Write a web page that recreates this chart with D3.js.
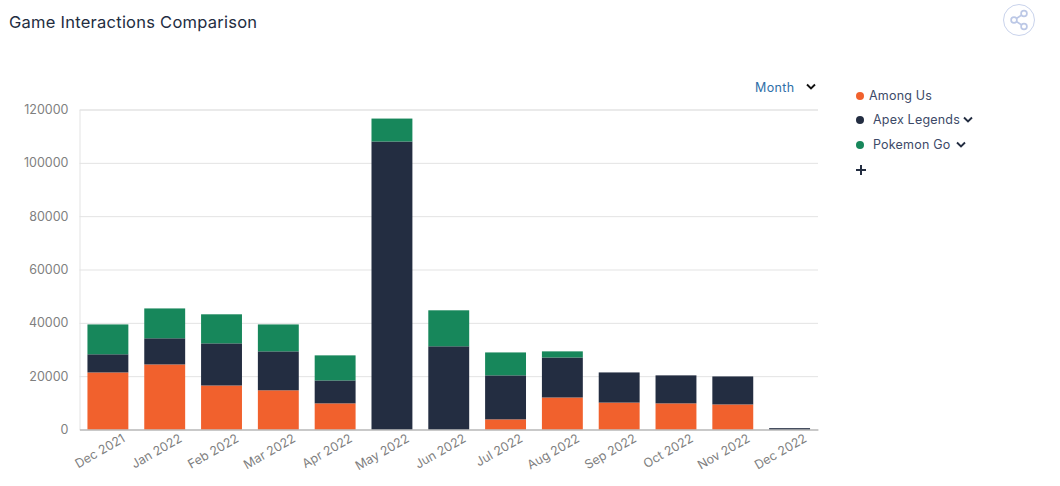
<!DOCTYPE html>
<html>
<head>
<meta charset="utf-8">
<script src="https://cdn.jsdelivr.net/npm/d3@7/dist/d3.min.js"></script>
<style>
html,body{margin:0;padding:0;background:#fff;overflow:hidden}
text{font-family:Inter,"Noto Sans",sans-serif}
</style>
</head>
<body>
<svg id="chart" width="1060" height="486"></svg>
<script>
const months = ["Dec 2021","Jan 2022","Feb 2022","Mar 2022","Apr 2022","May 2022","Jun 2022","Jul 2022","Aug 2022","Sep 2022","Oct 2022","Nov 2022","Dec 2022"];
const seriesNames = ["Among Us","Apex Legends","Pokemon Go"];
const seriesColors = ["#f1612d","#232d41","#17875b"];
const amongUs = [21400,24400,16500,14700,9800,0,0,3800,12000,10100,9800,9400,0];
const apexLegends = [6800,9800,15800,14600,8600,108000,31200,16500,15000,11300,10500,10500,500];
const pokemonGo = [11200,11200,10900,10100,9400,8600,13500,8600,2300,0,0,0,0];
const yTicks = [0,20000,40000,60000,80000,100000,120000];

const svg = d3.select("#chart");
const x = d3.scaleBand().domain(months).range([79.5,818]).paddingInner(0.28).paddingOuter(0.14);
const y = d3.scaleLinear().domain([0,120000]).range([429.5,109.5]);

// horizontal grid and y labels
const yAxis = svg.append("g").attr("transform","translate(79.5,0)")
  .call(d3.axisLeft(y).tickValues(yTicks).tickFormat(d3.format("d")).tickSize(-738.5).tickPadding(11));
yAxis.select(".domain").attr("stroke","#e3e3e3");
yAxis.selectAll(".tick line").attr("stroke","#e3e3e3");
yAxis.selectAll(".tick text").attr("fill","#7f7f7f").style("font-size","12.5px").style("font-family","Inter, sans-serif");

// stacked bars
const rows = months.map((m,i)=>({month:m,"Among Us":amongUs[i],"Apex Legends":apexLegends[i],"Pokemon Go":pokemonGo[i]}));
const layers = d3.stack().keys(seriesNames)(rows);
svg.append("g").selectAll("g").data(layers).join("g")
  .attr("fill",(d,i)=>seriesColors[i])
  .selectAll("rect").data(d=>d.filter(p=>p[1]>p[0])).join("rect")
  .attr("x",d=>x(d.data.month))
  .attr("width",x.bandwidth())
  .attr("y",d=>y(d[1]))
  .attr("height",d=>y(d[0])-y(d[1]));

// x axis with slanted month labels
const xAxis = svg.append("g").attr("transform","translate(0,429.5)")
  .call(d3.axisBottom(x).tickSize(0).tickPadding(8));
xAxis.select(".domain").attr("stroke","#a8a8a8");
xAxis.selectAll(".tick text")
  .attr("fill","#7f7f7f").attr("text-anchor","end")
  .attr("transform","rotate(-30) translate(10,2)")
  .style("font-size","12.5px").style("font-family","Inter, sans-serif");

// title
svg.append("text").attr("x",9).attr("y",28).attr("fill","#232d41")
  .style("font-size","16.5px").style("letter-spacing","0.25px").text("Game Interactions Comparison");

// share button
const share = svg.append("g").attr("transform","translate(1019,20)");
share.append("circle").attr("r",15.5).attr("fill","#fff").attr("stroke","#c9d3ec").attr("stroke-width",1);
share.append("path").attr("d","M5 -6.5L-5 0L5 6.5").attr("fill","none").attr("stroke","#bcc8e6").attr("stroke-width",1.6);
[[5,-6.5],[-5,0],[5,6.5]].forEach(c=>share.append("circle").attr("cx",c[0]).attr("cy",c[1]).attr("r",2.9)
  .attr("fill","#fff").attr("stroke","#bcc8e6").attr("stroke-width",1.7));

const chevron = (px,py,color,w=1.9)=>svg.append("path")
  .attr("d",`M${px-4} ${py-2.5}L${px} ${py+1.5}L${px+4} ${py-2.5}`)
  .attr("fill","none").attr("stroke",color).attr("stroke-width",w);

// period selector
svg.append("text").attr("x",755).attr("y",92).attr("fill","#2f6fa8").style("font-size","12.5px").style("letter-spacing","0.4px").text("Month");
chevron(811,87,"#111");

// legend
const legendRows = [{tx:869,ty:100,cy:96,chev:null},{tx:873,ty:124,cy:120,chev:968},{tx:873,ty:149,cy:145,chev:961}];
seriesNames.forEach((name,i)=>{
  const r = legendRows[i];
  svg.append("circle").attr("cx",860).attr("cy",r.cy).attr("r",4).attr("fill",seriesColors[i]);
  svg.append("text").attr("x",r.tx).attr("y",r.ty).attr("fill","#3d4a68").style("font-size","12.5px").style("letter-spacing","0.2px").text(name);
  if(r.chev) chevron(r.chev,r.cy,"#232d41");
});
svg.append("path").attr("d","M856 170H866M861 165V175").attr("stroke","#232d41").attr("stroke-width",2).attr("fill","none");
</script>
</body>
</html>
